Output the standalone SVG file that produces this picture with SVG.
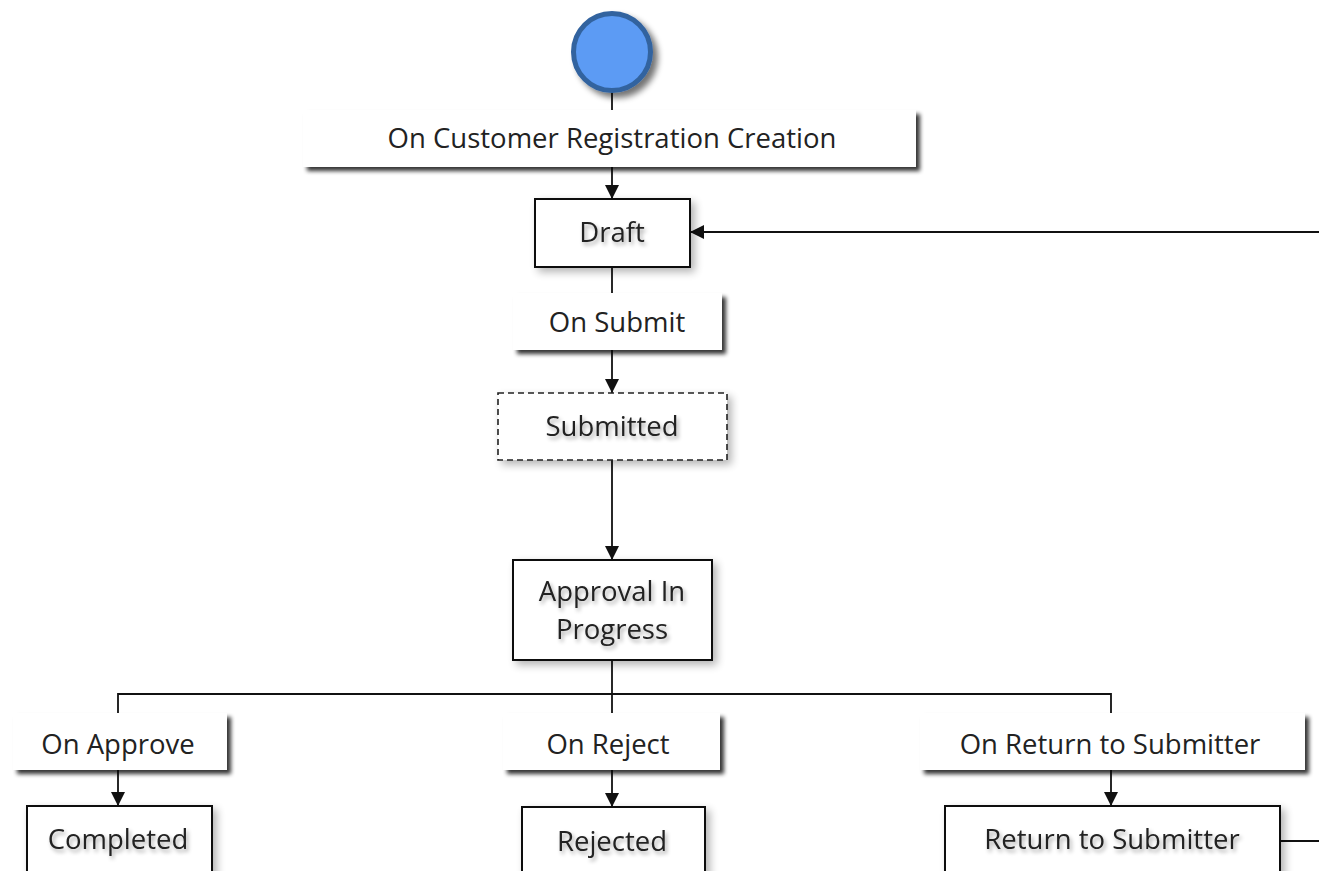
<svg xmlns="http://www.w3.org/2000/svg" width="1319" height="871" viewBox="0 0 1319 871">
<defs>
<style>
.lbl{fill:#fff;}
.st{fill:#fff;stroke:#111;stroke-width:2;}
.dash{fill:#fff;stroke:#222;stroke-width:1.6;stroke-dasharray:6 4;}
.t{font-family:"Open Sans","Noto Sans","Liberation Sans",sans-serif;font-size:27.5px;fill:#222;text-anchor:middle;}
.ts{font-family:"Open Sans","Noto Sans","Liberation Sans",sans-serif;font-size:27.5px;fill:#222;text-anchor:middle;}
.c{fill:none;stroke:#111;stroke-width:1.8;}
</style>
<marker id="arr" viewBox="0 0 14 14" markerWidth="14" markerHeight="14" refX="14" refY="7" orient="auto" markerUnits="userSpaceOnUse">
<path d="M0,0 L14,7 L0,14 Z" fill="#111"/>
</marker>
<filter id="lsh" x="-10%" y="-30%" width="125%" height="170%">
<feGaussianBlur in="SourceAlpha" stdDeviation="2"/>
<feOffset dx="4" dy="4" result="b"/>
<feComponentTransfer><feFuncA type="linear" slope="0.8"/></feComponentTransfer>
<feMerge><feMergeNode/><feMergeNode in="SourceGraphic"/></feMerge>
</filter>
<filter id="ssh" x="-10%" y="-20%" width="130%" height="150%">
<feGaussianBlur in="SourceAlpha" stdDeviation="4"/>
<feOffset dx="4" dy="4" result="b"/>
<feComponentTransfer><feFuncA type="linear" slope="0.3"/></feComponentTransfer>
<feMerge><feMergeNode/><feMergeNode in="SourceGraphic"/></feMerge>
</filter>
<filter id="tsh" x="-10%" y="-30%" width="130%" height="170%">
<feGaussianBlur in="SourceAlpha" stdDeviation="2"/>
<feOffset dx="2" dy="3" result="b"/>
<feComponentTransfer><feFuncA type="linear" slope="0.35"/></feComponentTransfer>
<feMerge><feMergeNode/><feMergeNode in="SourceGraphic"/></feMerge>
</filter>
<filter id="csh" x="-30%" y="-30%" width="170%" height="170%">
<feGaussianBlur in="SourceAlpha" stdDeviation="3"/>
<feOffset dx="5" dy="5" result="b"/>
<feComponentTransfer><feFuncA type="linear" slope="0.55"/></feComponentTransfer>
<feMerge><feMergeNode/><feMergeNode in="SourceGraphic"/></feMerge>
</filter>
</defs>
<rect width="1319" height="871" fill="#fff"/>
<g id="connectors">
<line class="c" x1="612" y1="91" x2="612" y2="110"/>
<line class="c" x1="612" y1="167" x2="612" y2="199" marker-end="url(#arr)"/>
<line class="c" x1="612" y1="267" x2="612" y2="293"/>
<line class="c" x1="612" y1="350" x2="612" y2="393" marker-end="url(#arr)"/>
<line class="c" x1="612" y1="460" x2="612" y2="560" marker-end="url(#arr)"/>
<polyline class="c" points="612,660 612,694"/>
<polyline class="c" points="118,713 118,694 1111,694 1111,713"/>
<line class="c" x1="612" y1="694" x2="612" y2="713"/>
<line class="c" x1="118" y1="770" x2="118" y2="806" marker-end="url(#arr)"/>
<line class="c" x1="612" y1="770" x2="612" y2="807" marker-end="url(#arr)"/>
<line class="c" x1="1111" y1="770" x2="1111" y2="806" marker-end="url(#arr)"/>
<line class="c" x1="1280" y1="841" x2="1319" y2="841"/>
<line class="c" x1="1319" y1="232" x2="690" y2="232" marker-end="url(#arr)"/>
</g>
<g id="start">
<circle cx="612" cy="52" r="38.5" fill="#5b9bf4" stroke="#33639f" stroke-width="5" filter="url(#csh)"/>
</g>
<g id="on-customer-registration-creation">
<rect class="lbl" x="303" y="110" width="613" height="57" filter="url(#lsh)"/>
<text class="t" x="612" y="148">On Customer Registration Creation</text>
</g>
<g id="draft">
<rect class="st" x="535" y="199" width="155" height="68" filter="url(#ssh)"/>
<text class="ts" x="612" y="242" filter="url(#tsh)">Draft</text>
</g>
<g id="on-submit">
<rect class="lbl" x="513" y="293" width="209" height="57" filter="url(#lsh)"/>
<text class="t" x="617" y="332">On Submit</text>
</g>
<g id="submitted">
<rect class="dash" x="498" y="393" width="229" height="67" filter="url(#ssh)"/>
<text class="ts" x="612" y="436" filter="url(#tsh)">Submitted</text>
</g>
<g id="approval-in-progress">
<rect class="st" x="513" y="560" width="199" height="100" filter="url(#ssh)"/>
<text class="ts" x="612" y="601" filter="url(#tsh)">Approval In</text>
<text class="ts" x="612" y="639" filter="url(#tsh)">Progress</text>
</g>
<g id="on-approve">
<rect class="lbl" x="13" y="713" width="214" height="57" filter="url(#lsh)"/>
<text class="t" x="118" y="754">On Approve</text>
</g>
<g id="completed">
<rect class="st" x="27" y="806" width="185" height="80" filter="url(#ssh)"/>
<text class="ts" x="118" y="849" filter="url(#tsh)">Completed</text>
</g>
<g id="on-reject">
<rect class="lbl" x="503" y="713" width="217" height="57" filter="url(#lsh)"/>
<text class="t" x="608" y="754">On Reject</text>
</g>
<g id="rejected">
<rect class="st" x="522" y="807" width="183" height="80" filter="url(#ssh)"/>
<text class="ts" x="612" y="851" filter="url(#tsh)">Rejected</text>
</g>
<g id="on-return-to-submitter">
<rect class="lbl" x="920" y="713" width="385" height="57" filter="url(#lsh)"/>
<text class="t" x="1110" y="754">On Return to Submitter</text>
</g>
<g id="return-to-submitter">
<rect class="st" x="945" y="806" width="335" height="80" filter="url(#ssh)"/>
<text class="ts" x="1112" y="849" filter="url(#tsh)">Return to Submitter</text>
</g>
</svg>
